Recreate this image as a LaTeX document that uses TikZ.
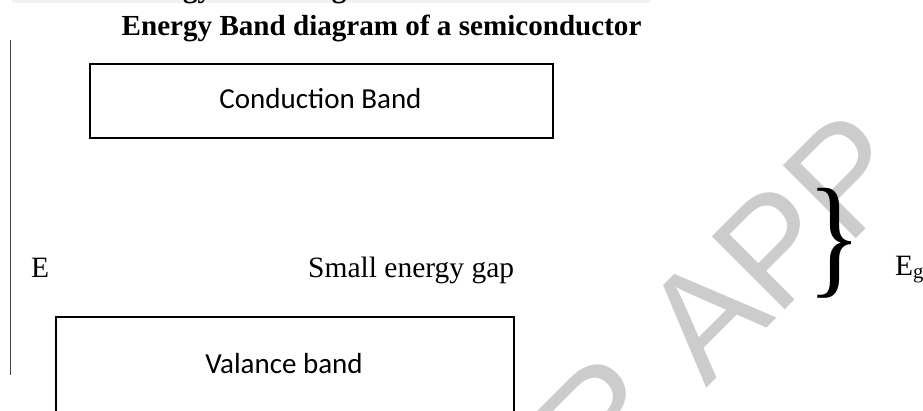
\documentclass[tikz,border=0pt]{standalone}
\usepackage{fontspec}
\usepackage{graphicx}
\setmainfont{Liberation Serif}
\newfontfamily\bandfont{Carlito}
\newfontfamily\markfont{Liberation Sans}
\definecolor{markgray}{RGB}{204,204,204}
\definecolor{bargray}{RGB}{242,242,242}
\definecolor{axisgray}{RGB}{70,70,70}
\tikzset{
  band/.style={draw=black, line width=1.8pt, inner sep=0pt, anchor=north west},
  bandlabel/.style={font=\bandfont\fontsize{29}{34}\selectfont, inner sep=0pt, anchor=base},
  serif/.style={font=\fontsize{29.5}{35}\selectfont, inner sep=0pt, anchor=base west},
  headline/.style={font=\bfseries\fontsize{29.1}{35}\selectfont, inner sep=0pt, anchor=base west},
}
\begin{document}
\begin{tikzpicture}[x=1pt,y=-1pt]
\clip (0,0) rectangle (923,410);
% watermark lettering
\node[font=\markfont\fontsize{150}{150}\selectfont, text=markgray, rotate=45,
      anchor=base west, inner sep=0pt] (mark) at (600,495) {R APP};
% strip of the previous line at the top edge
\begin{scope}
  \clip (12,0) rectangle (650,3.2);
  \fill[bargray] (12,0) rectangle (650,3.2);
  \node[headline] (prevline) at (121.5,-3) {Energy Band diagram of a semiconductor};
\end{scope}
% heading
\node[headline] (title) at (121.5,35) {Energy Band diagram of a semiconductor};
% energy axis
\coordinate (axtop) at (10,40);
\coordinate (axbot) at (10,375);
\draw[axisgray, line width=1pt] (axtop) -- (axbot);
% bands
\node[band, minimum width=463pt, minimum height=74pt] (cb) at (89,63) {};
\node[bandlabel] (cblabel) at (320.5,108) {Conduction Band};
\node[band, minimum width=458pt, minimum height=130pt] (vb) at (55,316) {};
\node[bandlabel] (vblabel) at (284,373) {Valance band};
% labels of the gap
\node[serif] (elabel) at (31,277) {E};
\node[serif] (gaplabel) at (308,277) {Small energy gap};
\node[inner sep=0pt] (brace) at (835,243) {\scalebox{0.85}[1]{\resizebox*{!}{110pt}{\}}}};
\node[serif] (eg) at (895,275) {E\textsubscript{g}};
\end{tikzpicture}
\end{document}
